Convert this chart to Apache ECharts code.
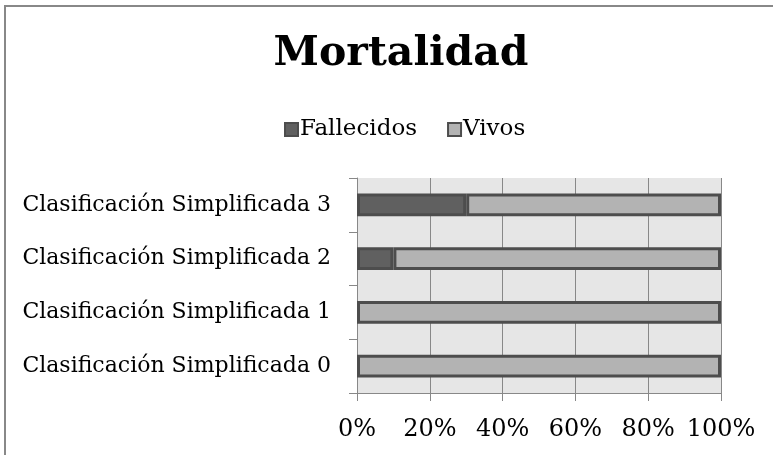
<!DOCTYPE html>
<html><head><meta charset="utf-8">
<script src="https://cdn.jsdelivr.net/npm/echarts@6/dist/echarts.min.js"></script>
<style>html,body{margin:0;padding:0;background:#fff}#c{width:773px;height:455px}</style>
</head><body><div id="c"></div>
<script>
const categories = ['Clasificación Simplificada 0','Clasificación Simplificada 1','Clasificación Simplificada 2','Clasificación Simplificada 3'];
const fallecidos = [0, 0, 10, 30];
const vivos = [100, 100, 90, 70];
const seriesNames = ['Fallecidos', 'Vivos'];
const font = 'DejaVu Serif';
const nz = v => (v === 0 ? null : v);
const chart = echarts.init(document.getElementById('c'));
chart.setOption({
  animation: false,
  backgroundColor: '#fff',
  graphic: [{type:'rect', shape:{x:5, y:6, width:900, height:600}, style:{fill:'none', stroke:'#888', lineWidth:2}, silent:true}],
  title: {text:'Mortalidad', left:396, textAlign:'center', top:29, textStyle:{fontFamily:font, fontSize:41, fontWeight:'bold', color:'#000'}},
  legend: {data: seriesNames, left:279, top:113, itemWidth:13, itemHeight:13, itemGap:30, textStyle:{fontFamily:font, fontSize:23, color:'#000', padding:[0,0,0,-3]}, icon:'rect'},
  grid: {left:357, right:52, top:178, bottom:62, backgroundColor:'#e6e6e6', show:true, borderWidth:0},
  xAxis: {type:'value', min:0, max:100, interval:20,
    axisLabel:{formatter:'{value}%', fontFamily:font, fontSize:24, color:'#000', margin:25},
    axisLine:{show:true, lineStyle:{color:'#888', width:1}},
    axisTick:{show:true, length:8, lineStyle:{color:'#888'}},
    splitLine:{show:true, lineStyle:{color:'#888', width:1}}},
  yAxis: {type:'category', data:categories,
    axisLabel:{fontFamily:font, fontSize:22, color:'#000', margin:26},
    axisLine:{show:true, lineStyle:{color:'#888'}},
    axisTick:{show:true, length:8, lineStyle:{color:'#888'}}},
  series: [
    {name:seriesNames[0], type:'bar', stack:'t', data:fallecidos.map(nz), barWidth:'42%', itemStyle:{color:'#606060', borderColor:'#4d4d4d', borderWidth:3}},
    {name:seriesNames[1], type:'bar', stack:'t', data:vivos.map(nz), barWidth:'42%', itemStyle:{color:'#b3b3b3', borderColor:'#4d4d4d', borderWidth:3}}
  ]
});
</script></body></html>
